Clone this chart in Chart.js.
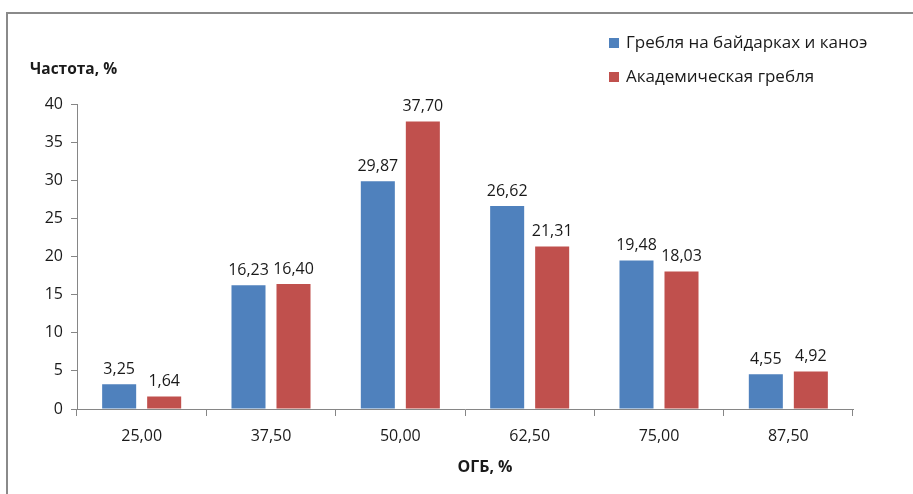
<!DOCTYPE html>
<html>
<head>
<meta charset="utf-8">
<script src="https://cdn.jsdelivr.net/npm/chart.js@4/dist/chart.umd.min.js"></script>
<style>
  html, body { margin: 0; padding: 0; background: #ffffff; }
  canvas { display: block; }
</style>
</head>
<body>
<canvas id="chart" width="913" height="494"></canvas>
<script>
// Distribution of ОГБ values for two rowing disciplines
const categories = ['25,00', '37,50', '50,00', '62,50', '75,00', '87,50'];
const kayakValues = [3.25, 16.23, 29.87, 26.62, 19.48, 4.55];
const rowingValues = [1.64, 16.40, 37.70, 21.31, 18.03, 4.92];
const seriesNames = ['Гребля на байдарках и каноэ', 'Академическая гребля'];
const yAxisTitle = 'Частота, %';
const xAxisTitle = 'ОГБ, %';
const yMin = 0, yMax = 40, yStep = 5;

const FONT = "'Open Sans', sans-serif";
const TEXT = '#1a1a1a';
const AXIS = '#868686';

function fmt(v) { return v.toFixed(2).replace('.', ','); }

// Frame, axis titles, legend and value labels
const decorations = {
  id: 'decorations',
  afterDatasetsDraw(chart) {
    const ctx = chart.ctx;
    ctx.save();
    ctx.fillStyle = TEXT;
    ctx.font = '16px ' + FONT;
    ctx.textAlign = 'center';
    ctx.textBaseline = 'bottom';
    chart.data.datasets.forEach((ds, i) => {
      chart.getDatasetMeta(i).data.forEach((bar, j) => {
        ctx.fillText(fmt(ds.data[j]), bar.x, bar.y - 7);
      });
    });
    ctx.restore();
  },
  afterDraw(chart) {
    const ctx = chart.ctx;
    ctx.save();
    // outer frame (top and left edges)
    ctx.strokeStyle = '#8a8a8a';
    ctx.lineWidth = 2;
    ctx.beginPath();
    ctx.moveTo(7, 494);
    ctx.lineTo(7, 13);
    ctx.lineTo(913, 13);
    ctx.stroke();

    // axis titles
    ctx.fillStyle = TEXT;
    ctx.font = 'bold 15.5px ' + FONT;
    ctx.textBaseline = 'middle';
    ctx.textAlign = 'left';
    ctx.fillText(yAxisTitle, 30, 70);
    ctx.textAlign = 'center';
    ctx.font = 'bold 16px ' + FONT;
    const xs = chart.scales.x;
    ctx.fillText(xAxisTitle, (xs.left + xs.right) / 2 + 20, 467);

    // legend
    ctx.font = '17px ' + FONT;
    ctx.textAlign = 'left';
    chart.data.datasets.forEach((ds, i) => {
      const y = 43 + i * 34;
      ctx.fillStyle = ds.backgroundColor;
      ctx.fillRect(609, y - 5, 10, 10);
      ctx.fillStyle = TEXT;
      ctx.fillText(ds.label, 626, y);
    });
    ctx.restore();
  }
};

new Chart(document.getElementById('chart'), {
  type: 'bar',
  data: {
    labels: categories,
    datasets: [
      { label: seriesNames[0], data: kayakValues, backgroundColor: '#4F81BD' },
      { label: seriesNames[1], data: rowingValues, backgroundColor: '#C0504D' }
    ]
  },
  options: {
    responsive: false,
    animation: false,
    devicePixelRatio: 1,
    layout: { padding: { left: 0, right: 60, top: 104, bottom: 0 } },
    categoryPercentage: 0.696,
    barPercentage: 0.756,
    plugins: { legend: { display: false }, tooltip: { enabled: false } },
    scales: {
      x: {
        afterFit(scale) { scale.height = 85; },
        grid: { display: true, drawOnChartArea: false, drawTicks: true, tickLength: 7, color: AXIS, offset: true },
        border: { display: true, color: AXIS, width: 1 },
        ticks: { color: TEXT, font: { family: FONT, size: 16 }, padding: 11, maxRotation: 0 }
      },
      y: {
        min: yMin,
        max: yMax,
        afterFit(scale) { scale.width = 77; },
        grid: { display: true, drawOnChartArea: false, drawTicks: true, tickLength: 6, color: AXIS },
        border: { display: true, color: AXIS, width: 1 },
        ticks: { stepSize: yStep, color: TEXT, font: { family: FONT, size: 16 }, padding: 8 }
      }
    }
  },
  plugins: [decorations]
});
</script>
</body>
</html>
